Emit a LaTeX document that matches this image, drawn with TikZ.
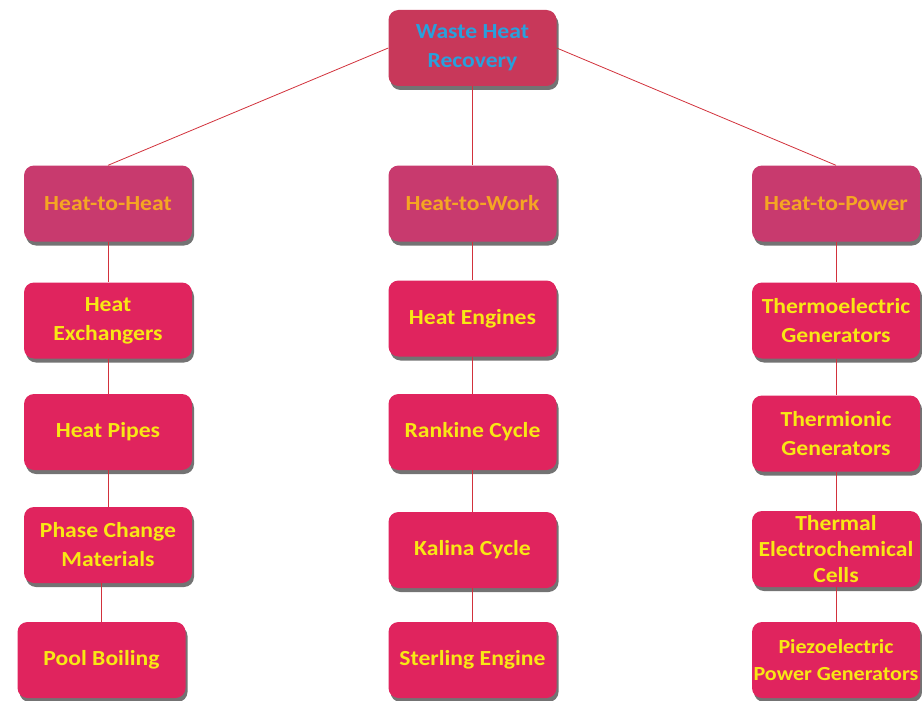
\documentclass[tikz,border=0pt]{standalone}
\usepackage{fontspec}
\setmainfont{Carlito}[FakeStretch=1.1]
\usetikzlibrary{shadows}
\definecolor{rootfill}{HTML}{C8385A}
\definecolor{midfill}{HTML}{C83A6E}
\definecolor{leaffill}{HTML}{E0245E}
\definecolor{roottext}{HTML}{29A0DC}
\definecolor{midtext}{HTML}{F5A623}
\definecolor{leaftext}{HTML}{F8E814}
\definecolor{linkcol}{HTML}{D2323C}
\tikzset{
  box/.style={rectangle, rounded corners=10pt, minimum width=168pt, minimum height=76pt,
    inner sep=1pt, align=center, font=\fontsize{21.5}{29}\selectfont\bfseries,
    drop shadow={shadow xshift=2pt, shadow yshift=-4pt, opacity=0.55, fill=black}},
  rootbox/.style={box, fill=rootfill, text=roottext},
  midbox/.style={box, fill=midfill, text=midtext},
  leafbox/.style={box, fill=leaffill, text=leaftext},
  link/.style={draw=linkcol, line width=0.8pt}
}
\begin{document}
\begin{tikzpicture}[x=1pt,y=-1pt]
\fill[white] (0,0) rectangle (922,701);
\useasboundingbox (0,0) rectangle (922,701);
\node[rootbox] (root) at (472.5,48) {Waste Heat\\Recovery};
\node[midbox] (hh) at (108,203.5) {Heat-to-Heat};
\node[midbox] (hw) at (472.5,203.5) {Heat-to-Work};
\node[midbox] (hp) at (836,203.5) {Heat-to-Power};
% column 1
\node[leafbox] (a1) at (108,320.5) {Heat\\Exchangers};
\node[leafbox] (a2) at (108,432) {Heat Pipes};
\node[leafbox] (a3) at (108,545) {Phase Change\\Materials};
\node[leafbox] (a4) at (101.5,660) {Pool Boiling};
% column 2
\node[leafbox] (b1) at (472.5,318.5) {Heat Engines};
\node[leafbox] (b2) at (472.5,432) {Rankine Cycle};
\node[leafbox] (b3) at (472.5,550) {Kalina Cycle};
\node[leafbox] (b4) at (472.5,660) {Sterling Engine};
% column 3
\node[leafbox] (c1) at (836,320.5) {Thermoelectric\\Generators};
\node[leafbox] (c2) at (836,433.5) {Thermionic\\Generators};
\node[leafbox] (c3) at (836,549) {Thermal\\[-3pt]Electrochemical\\[-3pt]Cells};
\node[leafbox, font=\fontsize{20}{27}\selectfont\bfseries] (c4) at (836,660) {Piezoelectric\\Power Generators};
% connectors
\draw[link] (root.west) -- (hh.north);
\draw[link] (root.east) -- (hp.north);
\draw[link] (root.south) -- (hw.north);
\draw[link] (hh.south) -- (a1.north);
\draw[link] (a1.south) -- (a2.north);
\draw[link] (a2.south) -- (a3.north);
\draw[link] (a4.north |- a3.south) -- (a4.north);
\draw[link] (hw.south) -- (b1.north);
\draw[link] (b1.south) -- (b2.north);
\draw[link] (b2.south) -- (b3.north);
\draw[link] (b3.south) -- (b4.north);
\draw[link] (hp.south) -- (c1.north);
\draw[link] (c1.south) -- (c2.north);
\draw[link] (c2.south) -- (c3.north);
\draw[link] (c3.south) -- (c4.north);
\end{tikzpicture}
\end{document}
